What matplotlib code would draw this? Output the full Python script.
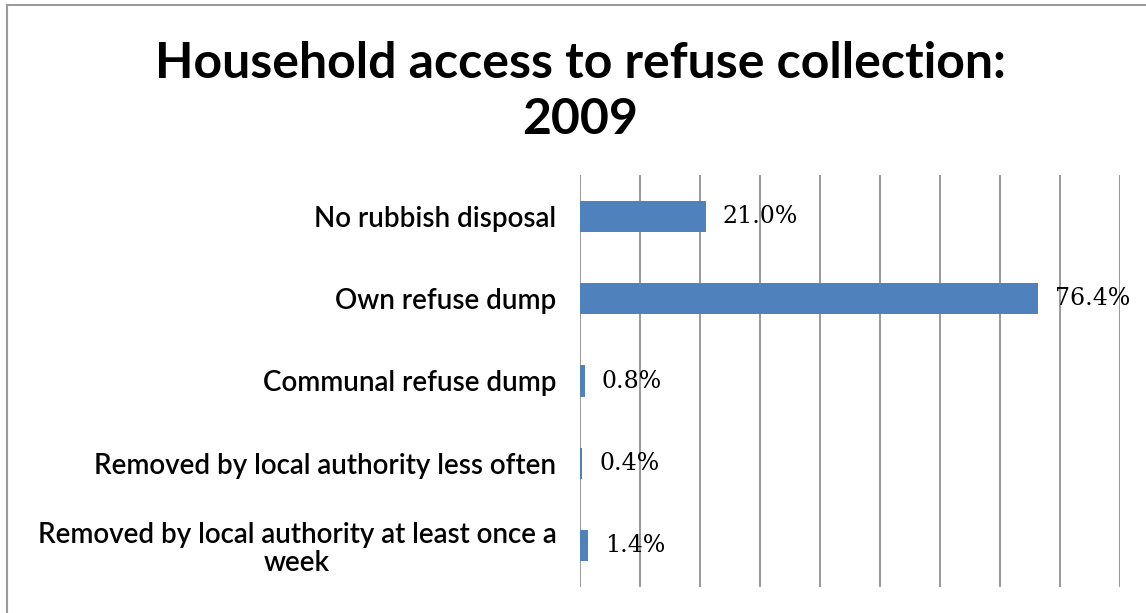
import matplotlib.pyplot as plt
from matplotlib.lines import Line2D

categories = [
    "No rubbish disposal",
    "Own refuse dump",
    "Communal refuse dump",
    "Removed by local authority less often",
    "Removed by local authority at least once a\nweek",
]
values = [21.0, 76.4, 0.8, 0.4, 1.4]
title_lines = ["Household access to refuse collection:", "2009"]

BAR_COLOR = "#4F81BD"
GRID_COLOR = "#888888"


def main() -> None:
    fig = plt.figure(figsize=(11.46, 6.13), dpi=100)
    W, H = 1146, 613
    ax = fig.add_axes([580 / W, 1 - 587 / H, (1120 - 580) / W, (587 - 175) / H])

    y = list(range(len(categories)))
    ax.barh(y, values, height=0.38, color=BAR_COLOR, zorder=3)
    ax.set_ylim(len(categories) - 0.5, -0.5)
    ax.set_xlim(0, 90)
    ax.set_xticks(range(0, 91, 10))
    ax.set_xticklabels([])
    ax.grid(axis="x", color=GRID_COLOR, linewidth=1.2, zorder=0)
    ax.set_yticks(y)
    ax.set_yticklabels(categories, fontsize=20, family="Lato",
                       fontweight="semibold", multialignment="center",
                       linespacing=1.1)
    ax.tick_params(axis="y", length=0, pad=17)
    ax.tick_params(axis="x", length=0)
    for s in ax.spines.values():
        s.set_visible(False)

    for i, v in enumerate(values):
        ax.annotate(f"{v:.1f}%", xy=(v, i), xytext=(12, 0),
                    textcoords="offset points", va="center", ha="left",
                    fontsize=17, family="DejaVu Serif", color="black",
                    zorder=4)

    # title, two centred lines
    for txt, base in zip(title_lines, [78, 134]):
        fig.text(580 / W, 1 - base / H, txt, ha="center", va="baseline",
                 fontsize=36, fontweight="bold", family="Lato")

    # chart border (left and top only visible)
    fig.add_artist(Line2D([7 / W, 7 / W], [0, 1 - 5 / H], color="#9a9a9a",
                          linewidth=1.5, transform=fig.transFigure))
    fig.add_artist(Line2D([7 / W, 1], [1 - 5 / H, 1 - 5 / H], color="#9a9a9a",
                          linewidth=1.5, transform=fig.transFigure))

    fig.savefig("out.png", dpi=100)
    plt.close(fig)


if __name__ == "__main__":
    main()
